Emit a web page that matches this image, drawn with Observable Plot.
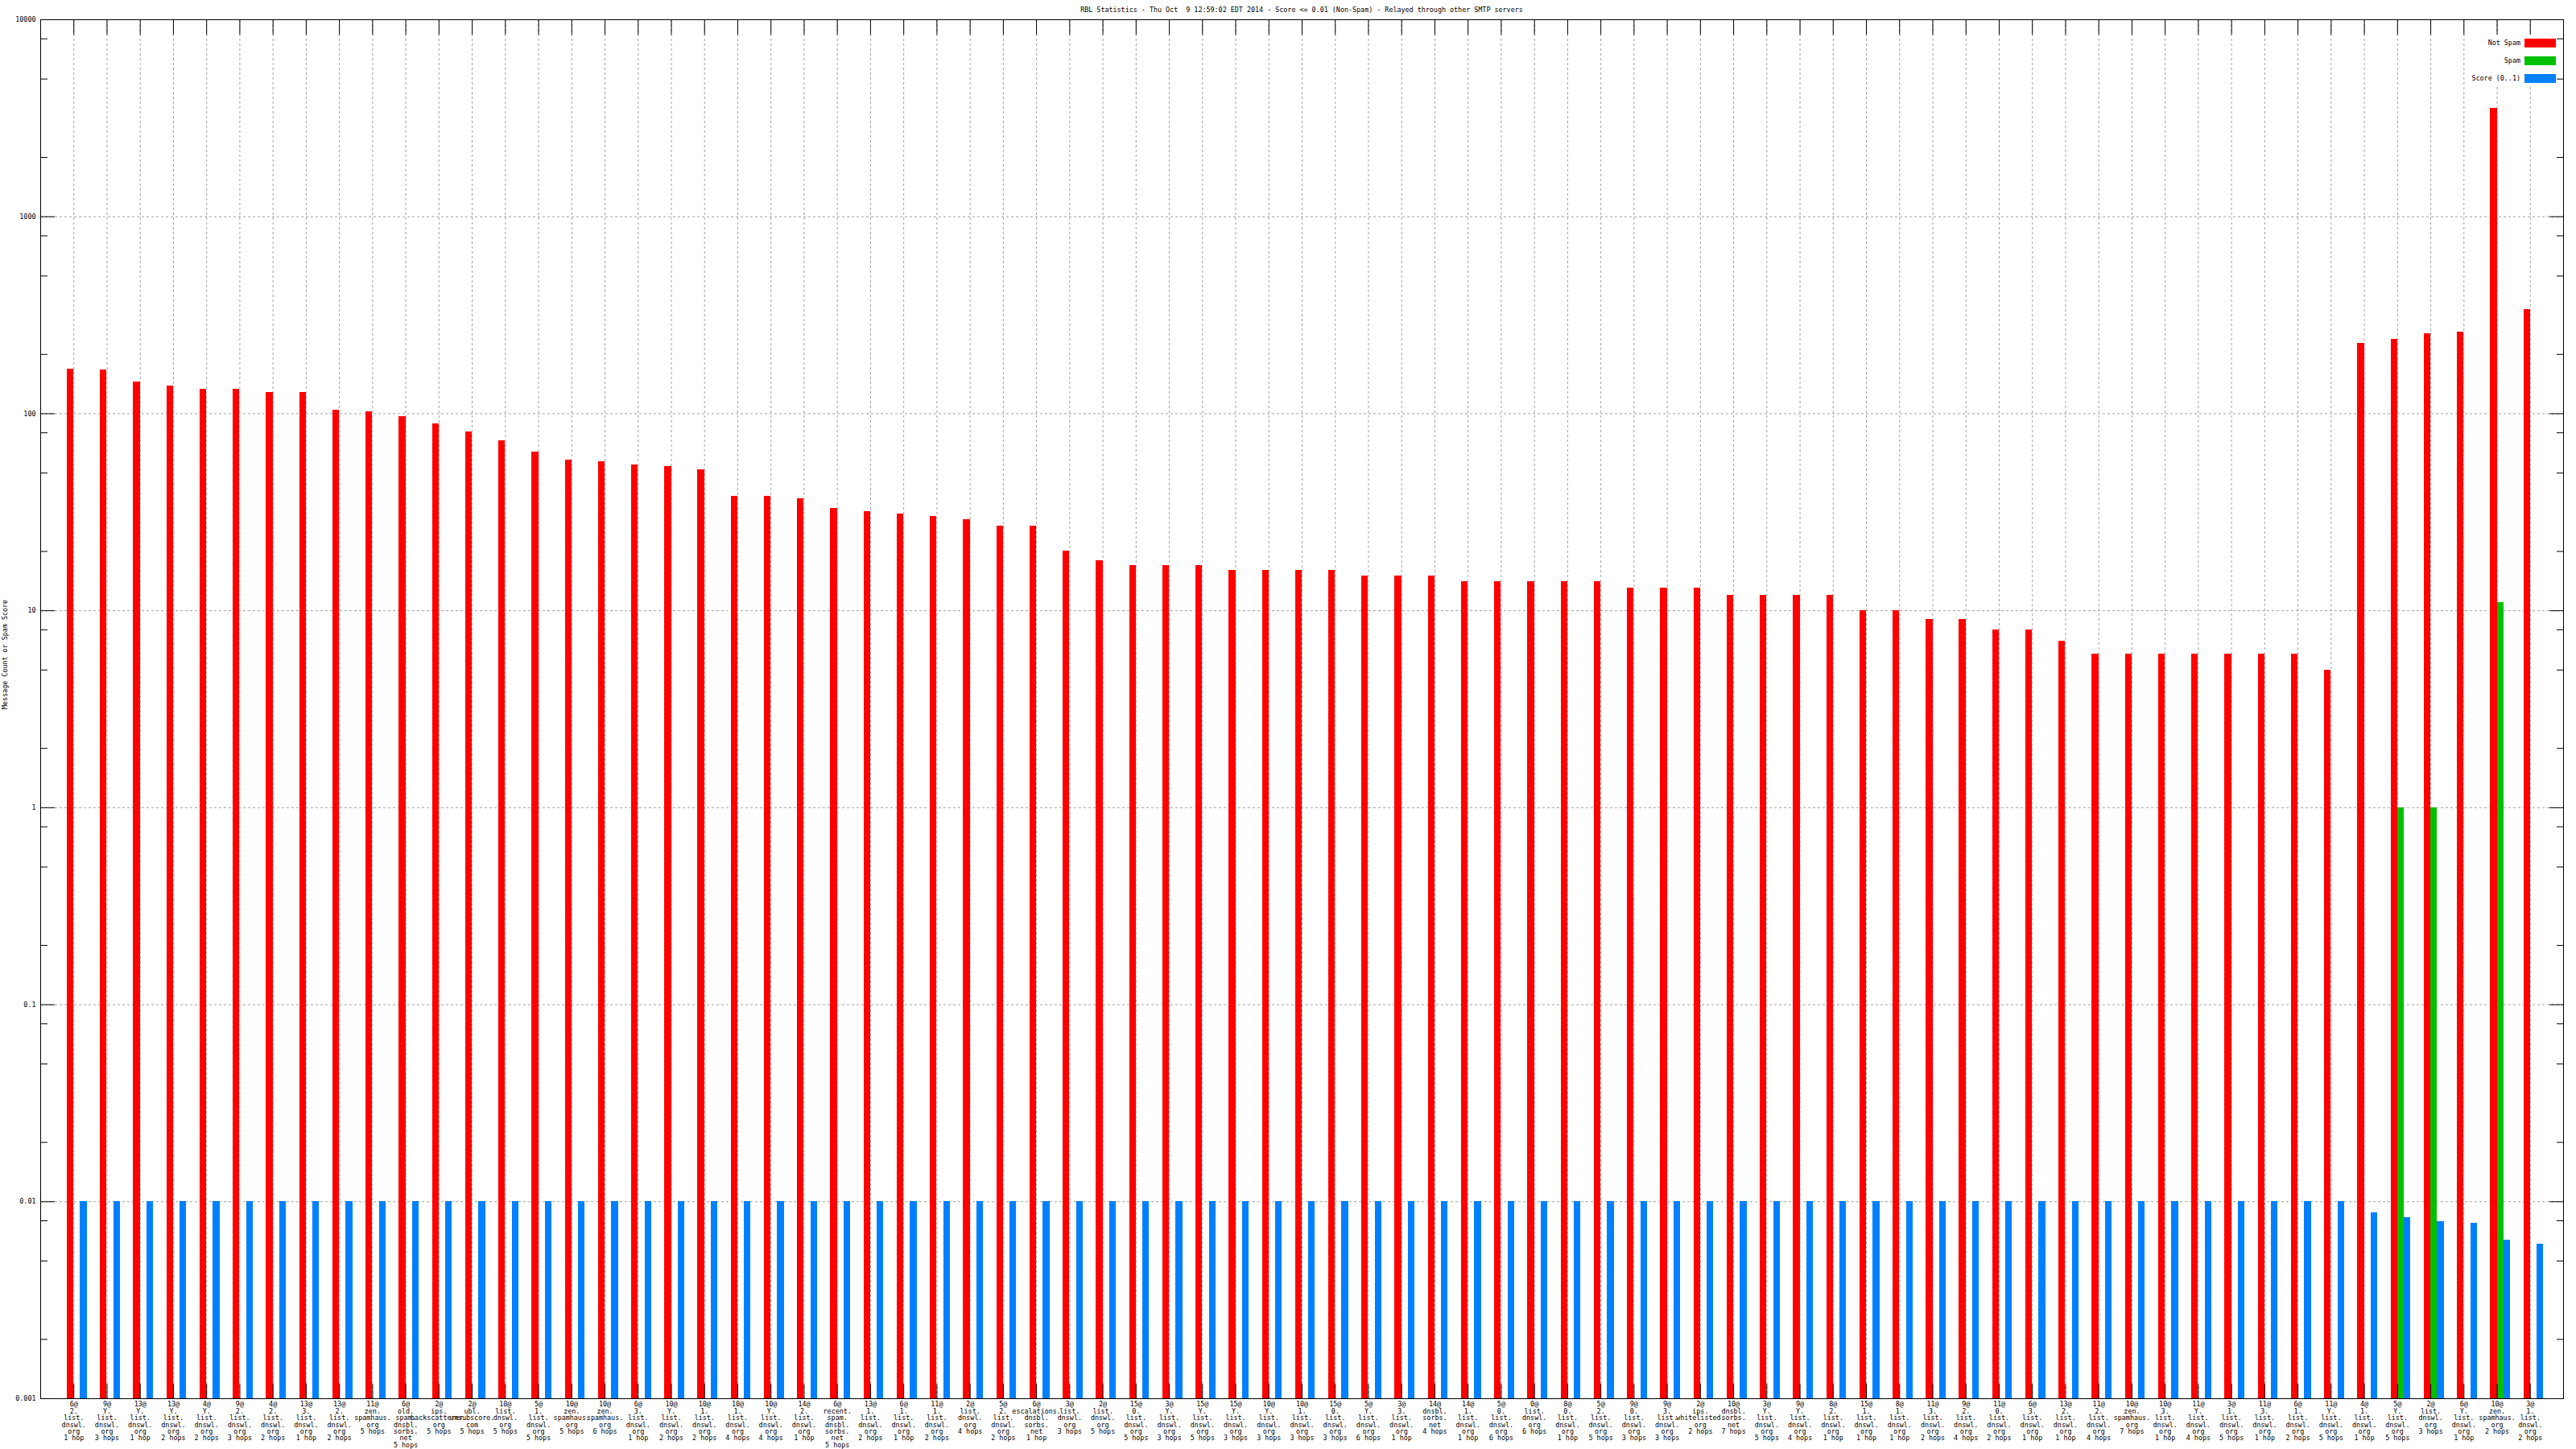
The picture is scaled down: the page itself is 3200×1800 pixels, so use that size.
<!DOCTYPE html>
<html>
<head>
<meta charset="utf-8">
<script src="https://cdn.jsdelivr.net/npm/d3@7"></script>
<script src="https://cdn.jsdelivr.net/npm/@observablehq/plot@0.6"></script>
<style>
  html, body { margin: 0; padding: 0; background: #fff; }
  #wrap { position: relative; width: 3200px; height: 1800px; background: #fff; font-family: "DejaVu Sans Mono", monospace; font-size: 8.4px; color: #000; }
  #title { position: absolute; left: 50px; width: 3134px; top: 7px; text-align: center; white-space: pre; line-height: 10px; }
  #legend { position: absolute; left: 3062px; top: 43px; width: 113px; height: 64px; background: #fff; }
  .row { position: absolute; left: 0; height: 11px; width: 113px; }
  .row .lab { position: absolute; right: 44px; top: 0; line-height: 11px; white-space: pre; }
  .row .sw { position: absolute; right: 0; top: 0; width: 39px; height: 11px; }
</style>
</head>
<body>
<div id="wrap"></div>
<script>
const title = "RBL Statistics - Thu Oct  9 12:59:02 EDT 2014 - Score <= 0.01 (Non-Spam) - Relayed through other SMTP servers";
const yLabel = "Message Count or Spam Score";
const seriesNames = ["Not Spam", "Spam", "Score (0..1)"];
const seriesColors = ["#ff0000", "#00c000", "#0080ff"];

const categories = [
  "6@\n2.\nlist.\ndnswl.\norg\n1 hop",
  "9@\nY.\nlist.\ndnswl.\norg\n3 hops",
  "13@\nY.\nlist.\ndnswl.\norg\n1 hop",
  "13@\nY.\nlist.\ndnswl.\norg\n2 hops",
  "4@\nY.\nlist.\ndnswl.\norg\n2 hops",
  "9@\n2.\nlist.\ndnswl.\norg\n3 hops",
  "4@\n2.\nlist.\ndnswl.\norg\n2 hops",
  "13@\n3.\nlist.\ndnswl.\norg\n1 hop",
  "13@\n2.\nlist.\ndnswl.\norg\n2 hops",
  "11@\nzen.\nspamhaus.\norg\n5 hops",
  "6@\nold.\nspam.\ndnsbl.\nsorbs.\nnet\n5 hops",
  "2@\nips.\nbackscatterer.\norg\n5 hops",
  "2@\nubl.\nunsubscore.\ncom\n5 hops",
  "10@\nlist.\ndnswl.\norg\n5 hops",
  "5@\n1.\nlist.\ndnswl.\norg\n5 hops",
  "10@\nzen.\nspamhaus.\norg\n5 hops",
  "10@\nzen.\nspamhaus.\norg\n6 hops",
  "6@\n3.\nlist.\ndnswl.\norg\n1 hop",
  "10@\nY.\nlist.\ndnswl.\norg\n2 hops",
  "10@\n1.\nlist.\ndnswl.\norg\n2 hops",
  "10@\n1.\nlist.\ndnswl.\norg\n4 hops",
  "10@\nY.\nlist.\ndnswl.\norg\n4 hops",
  "14@\n2.\nlist.\ndnswl.\norg\n1 hop",
  "6@\nrecent.\nspam.\ndnsbl.\nsorbs.\nnet\n5 hops",
  "13@\n1.\nlist.\ndnswl.\norg\n2 hops",
  "6@\n1.\nlist.\ndnswl.\norg\n1 hop",
  "11@\n1.\nlist.\ndnswl.\norg\n2 hops",
  "2@\nlist.\ndnswl.\norg\n4 hops",
  "5@\n2.\nlist.\ndnswl.\norg\n2 hops",
  "6@\nescalations.\ndnsbl.\nsorbs.\nnet\n1 hop",
  "3@\nlist.\ndnswl.\norg\n3 hops",
  "2@\nlist.\ndnswl.\norg\n5 hops",
  "15@\n0.\nlist.\ndnswl.\norg\n5 hops",
  "3@\nY.\nlist.\ndnswl.\norg\n3 hops",
  "15@\nY.\nlist.\ndnswl.\norg\n5 hops",
  "15@\nY.\nlist.\ndnswl.\norg\n3 hops",
  "10@\nY.\nlist.\ndnswl.\norg\n3 hops",
  "10@\n1.\nlist.\ndnswl.\norg\n3 hops",
  "15@\n0.\nlist.\ndnswl.\norg\n3 hops",
  "5@\nY.\nlist.\ndnswl.\norg\n6 hops",
  "3@\n3.\nlist.\ndnswl.\norg\n1 hop",
  "14@\ndnsbl.\nsorbs.\nnet\n4 hops",
  "14@\n1.\nlist.\ndnswl.\norg\n1 hop",
  "5@\n0.\nlist.\ndnswl.\norg\n6 hops",
  "0@\nlist.\ndnswl.\norg\n6 hops",
  "8@\n0.\nlist.\ndnswl.\norg\n1 hop",
  "5@\n2.\nlist.\ndnswl.\norg\n5 hops",
  "9@\n0.\nlist.\ndnswl.\norg\n3 hops",
  "9@\n3.\nlist.\ndnswl.\norg\n3 hops",
  "2@\nips.\nwhitelisted.\norg\n2 hops",
  "10@\ndnsbl.\nsorbs.\nnet\n7 hops",
  "3@\nY.\nlist.\ndnswl.\norg\n5 hops",
  "9@\nY.\nlist.\ndnswl.\norg\n4 hops",
  "8@\n2.\nlist.\ndnswl.\norg\n1 hop",
  "15@\n1.\nlist.\ndnswl.\norg\n1 hop",
  "8@\n1.\nlist.\ndnswl.\norg\n1 hop",
  "11@\n3.\nlist.\ndnswl.\norg\n2 hops",
  "9@\n2.\nlist.\ndnswl.\norg\n4 hops",
  "11@\n0.\nlist.\ndnswl.\norg\n2 hops",
  "6@\n3.\nlist.\ndnswl.\norg\n1 hop",
  "13@\n2.\nlist.\ndnswl.\norg\n1 hop",
  "11@\n2.\nlist.\ndnswl.\norg\n4 hops",
  "10@\nzen.\nspamhaus.\norg\n7 hops",
  "10@\n3.\nlist.\ndnswl.\norg\n1 hop",
  "11@\nY.\nlist.\ndnswl.\norg\n4 hops",
  "3@\n1.\nlist.\ndnswl.\norg\n5 hops",
  "11@\n3.\nlist.\ndnswl.\norg\n1 hop",
  "6@\n1.\nlist.\ndnswl.\norg\n2 hops",
  "11@\nY.\nlist.\ndnswl.\norg\n5 hops",
  "4@\n1.\nlist.\ndnswl.\norg\n1 hop",
  "5@\nY.\nlist.\ndnswl.\norg\n5 hops",
  "2@\nlist.\ndnswl.\norg\n3 hops",
  "6@\nY.\nlist.\ndnswl.\norg\n1 hop",
  "10@\nzen.\nspamhaus.\norg\n2 hops",
  "3@\n1.\nlist.\ndnswl.\norg\n2 hops"
];

const notSpam = [
  168, 167, 145, 138, 133, 133, 128, 128, 104, 102,
  97, 89, 81, 73, 64, 58, 57, 55, 54, 52,
  38, 38, 37, 33, 32, 31, 30, 29, 27, 27,
  20, 18, 17, 17, 17, 16, 16, 16, 16, 15,
  15, 15, 14, 14, 14, 14, 14, 13, 13, 13,
  12, 12, 12, 12, 10, 10, 9, 9, 8, 8,
  7, 6, 6, 6, 6, 6, 6, 6, 5, 228,
  239, 255, 260, 3540, 339
];

const spam = [
  0, 0, 0, 0, 0, 0, 0, 0, 0, 0,
  0, 0, 0, 0, 0, 0, 0, 0, 0, 0,
  0, 0, 0, 0, 0, 0, 0, 0, 0, 0,
  0, 0, 0, 0, 0, 0, 0, 0, 0, 0,
  0, 0, 0, 0, 0, 0, 0, 0, 0, 0,
  0, 0, 0, 0, 0, 0, 0, 0, 0, 0,
  0, 0, 0, 0, 0, 0, 0, 0, 0, 0,
  1, 1, 0, 11, 0
];

const score = [
  0.01, 0.01, 0.01, 0.01, 0.01, 0.01, 0.01, 0.01, 0.01, 0.01,
  0.01, 0.01, 0.01, 0.01, 0.01, 0.01, 0.01, 0.01, 0.01, 0.01,
  0.01, 0.01, 0.01, 0.01, 0.01, 0.01, 0.01, 0.01, 0.01, 0.01,
  0.01, 0.01, 0.01, 0.01, 0.01, 0.01, 0.01, 0.01, 0.01, 0.01,
  0.01, 0.01, 0.01, 0.01, 0.01, 0.01, 0.01, 0.01, 0.01, 0.01,
  0.01, 0.01, 0.01, 0.01, 0.01, 0.01, 0.01, 0.01, 0.01, 0.01,
  0.01, 0.01, 0.01, 0.01, 0.01, 0.01, 0.01, 0.01, 0.01, 0.0088,
  0.0083, 0.0079, 0.0078, 0.0064, 0.0061
];

const yTicks = [0.001, 0.01, 0.1, 1, 10, 100, 1000, 10000];
const yTickLabels = ["0.001", "0.01", "0.1", "1", "10", "100", "1000", "10000"];
const yMinorTicks = [
  0.002, 0.005, 0.008, 0.02, 0.05, 0.08, 0.2, 0.5, 0.8,
  2, 5, 8, 20, 50, 80, 200, 500, 800, 2000, 5000, 8000
];

const rows = categories.map((label, i) => ({i, label, notSpam: notSpam[i], spam: spam[i], score: score[i]}));
const idx = rows.map(d => d.i);
const base = yTicks[0];
const font = "DejaVu Sans Mono";
const grid = {stroke: "#a0a0a0", strokeOpacity: 1, strokeDasharray: "3,3", strokeWidth: 1};
const tickOpts = {fill: "none", stroke: "#000", strokeOpacity: 1, label: null};

const chart = Plot.plot({
  width: 3200,
  height: 1800,
  marginLeft: 50,
  marginRight: 16,
  marginTop: 24,
  marginBottom: 63,
  style: {fontFamily: font, fontSize: "8.4px", background: "#fff", color: "#000"},
  x: {type: "linear", domain: [-1, categories.length], axis: null},
  y: {type: "log", domain: [yTicks[0], yTicks[yTicks.length - 1]], axis: null},
  marks: [
    Plot.gridY(yTicks, grid),
    Plot.gridX(idx, grid),
    Plot.rectY(rows, {x1: d => d.i - 0.2, x2: d => d.i, y1: base, y2: "notSpam", fill: seriesColors[0], shapeRendering: "crispEdges"}),
    Plot.rectY(rows.filter(d => d.spam > 0), {x1: d => d.i, x2: d => d.i + 0.2, y1: base, y2: "spam", fill: seriesColors[1], shapeRendering: "crispEdges"}),
    Plot.rectY(rows, {x1: d => d.i + 0.2, x2: d => d.i + 0.4, y1: base, y2: "score", fill: seriesColors[2], shapeRendering: "crispEdges"}),
    Plot.axisX(idx, {anchor: "top", tickSize: -18, ...tickOpts}),
    Plot.axisX(idx, {anchor: "bottom", tickSize: -18, ...tickOpts}),
    Plot.axisY(yTicks, {anchor: "left", tickSize: -18, ...tickOpts}),
    Plot.axisY(yTicks, {anchor: "right", tickSize: -18, ...tickOpts}),
    Plot.axisY(yMinorTicks, {anchor: "left", tickSize: -9, ...tickOpts}),
    Plot.axisY(yMinorTicks, {anchor: "right", tickSize: -9, ...tickOpts}),
    Plot.axisY(yTicks, {anchor: "left", tickSize: 0, tickPadding: 6, label: null, fill: "#000",
      tickFormat: d => yTickLabels[yTicks.indexOf(d)], fontSize: 8.4, fontFamily: font}),
    Plot.text(rows, {x: "i", text: "label", frameAnchor: "bottom", lineAnchor: "top", dy: 4,
      lineHeight: 1, fontSize: 8.4, fontFamily: font, fill: "#000"}),
    Plot.text([yLabel], {frameAnchor: "left", dx: -44, rotate: -90, fontSize: 8.4, fontFamily: font, fill: "#000"}),
    Plot.frame({stroke: "#000", strokeWidth: 1})
  ]
});

const wrap = document.getElementById("wrap");
wrap.appendChild(chart);
chart.style.position = "absolute";
chart.style.left = "0";
chart.style.top = "0";

const t = document.createElement("div");
t.id = "title";
t.textContent = title;
wrap.appendChild(t);

const lg = document.createElement("div");
lg.id = "legend";
seriesNames.forEach((name, k) => {
  const r = document.createElement("div");
  r.className = "row";
  r.style.top = (5 + k * 22) + "px";
  const lab = document.createElement("span");
  lab.className = "lab";
  lab.textContent = name;
  const sw = document.createElement("span");
  sw.className = "sw";
  sw.style.background = seriesColors[k];
  r.appendChild(lab);
  r.appendChild(sw);
  lg.appendChild(r);
});
wrap.appendChild(lg);
</script>
</body>
</html>
